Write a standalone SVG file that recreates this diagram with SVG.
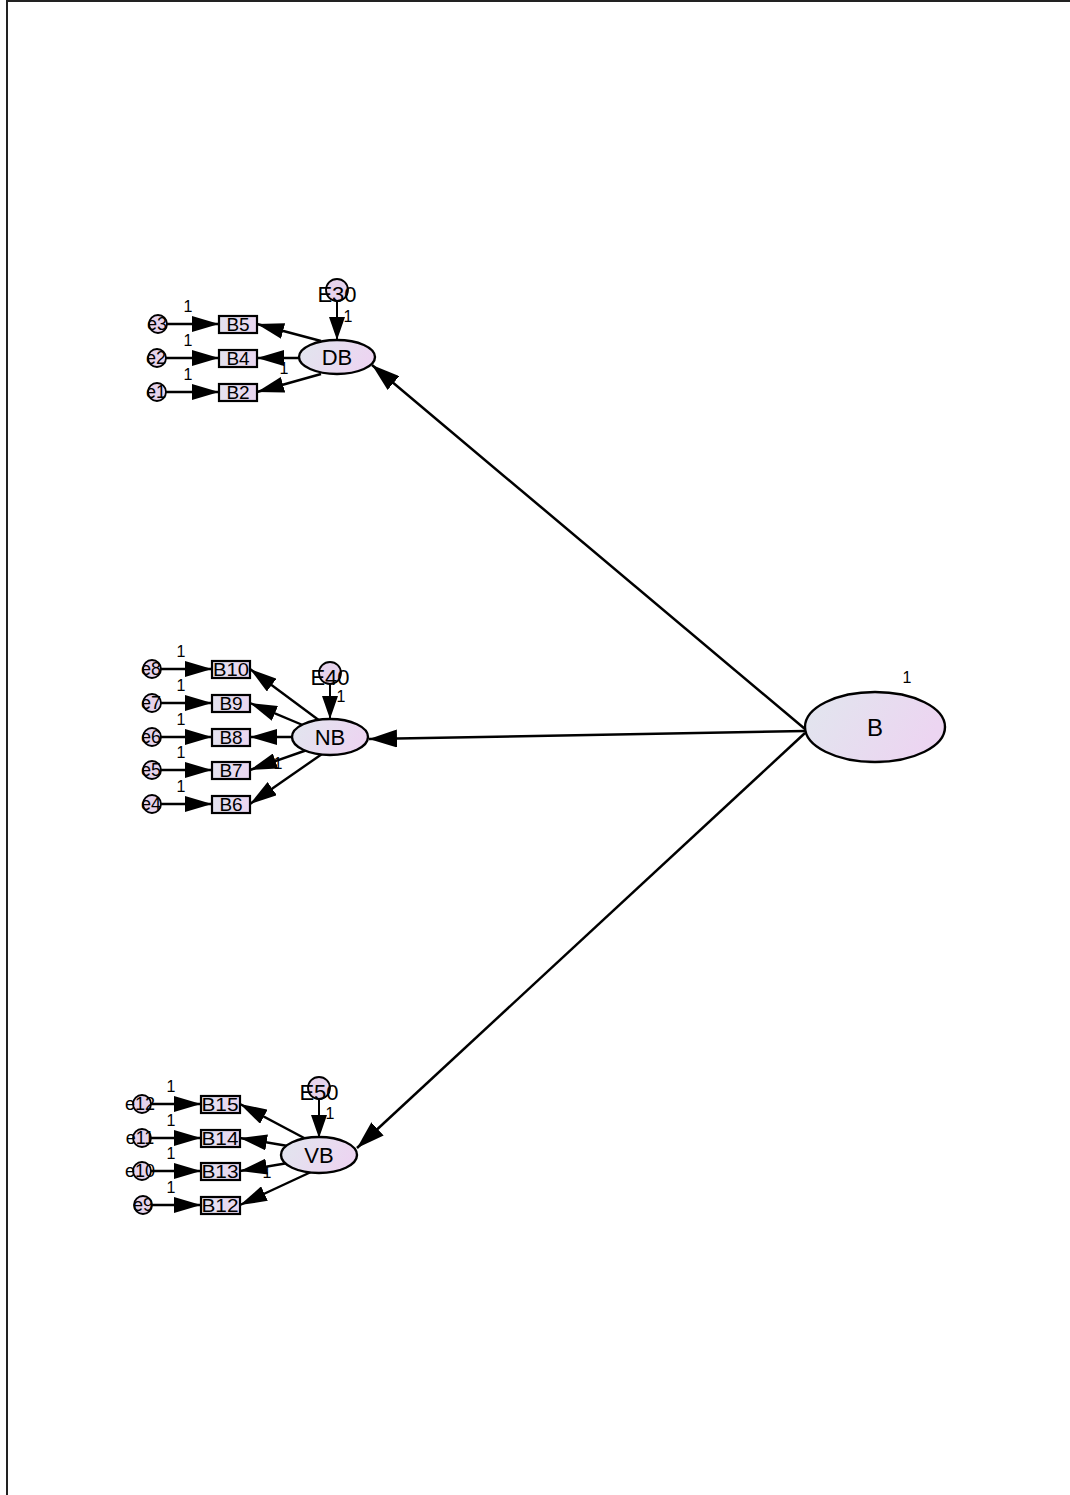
<svg xmlns="http://www.w3.org/2000/svg" width="1070" height="1495" viewBox="0 0 1070 1495">
  <defs>
    <linearGradient id="lat" x1="0" y1="0" x2="1" y2="0.3">
      <stop offset="0" stop-color="#e1e6ee"/>
      <stop offset="1" stop-color="#ecd5f1"/>
    </linearGradient>
    <linearGradient id="obs" x1="0" y1="0" x2="1" y2="0">
      <stop offset="0" stop-color="#e3e2ef"/>
      <stop offset="1" stop-color="#ead6f0"/>
    </linearGradient>
    <marker id="ah" markerUnits="userSpaceOnUse" markerWidth="30" markerHeight="18" refX="28" refY="9" orient="auto">
      <path d="M0,0 L28,9 L0,18 z" fill="#000"/>
    </marker>
    <marker id="ahs" markerUnits="userSpaceOnUse" markerWidth="28" markerHeight="16" refX="27" refY="8" orient="auto">
      <path d="M0,0 L27,8 L0,16 z" fill="#000"/>
    </marker>
    <marker id="ahr" markerUnits="userSpaceOnUse" markerWidth="24" markerHeight="16" refX="23" refY="8" orient="auto">
      <path d="M0,0 L23,8 L0,16 z" fill="#000"/>
    </marker>
  </defs>
  <style>
    text { font-family: "Liberation Sans", Arial, sans-serif; fill: #000; }
    .lat { fill: url(#lat); stroke: #000; stroke-width: 2.4; }
    .obs { fill: url(#obs); stroke: #000; stroke-width: 2.2; }
    .err { fill: #e6d3ec; stroke: #000; stroke-width: 1.8; }
    .lbl { font-size: 22px; text-anchor: middle; }
    .big { font-size: 24px; text-anchor: middle; }
    .ind { font-size: 19px; text-anchor: middle; }
    .en { font-size: 18px; text-anchor: middle; }
    .one { font-size: 16px; text-anchor: middle; }
    .ca { stroke: #000; stroke-width: 2.5; fill: none; marker-end: url(#ah); }
    .cs { stroke: #000; stroke-width: 2.4; fill: none; marker-end: url(#ahs); }
    .cr { stroke: #000; stroke-width: 2; fill: none; marker-end: url(#ahr); }
  </style>

  <rect width="1070" height="1495" fill="#fff"/>
  <!-- page frame -->
  <path d="M7,1495 L7,1 L1070,1" fill="none" stroke="#222" stroke-width="2"/>

  <!-- structural paths and measurement paths -->
  <g id="connectors">
    <!-- B to first-order factors -->
    <line class="ca" x1="805" y1="729" x2="372" y2="365"/>
    <line class="ca" x1="805" y1="731" x2="369" y2="739"/>
    <line class="ca" x1="805" y1="733" x2="357" y2="1148"/>

    <!-- DB block -->
    <line class="cs" x1="166" y1="324" x2="219" y2="324"/>
    <line class="cs" x1="165" y1="358" x2="219" y2="358"/>
    <line class="cs" x1="165" y1="392" x2="219" y2="392"/>
    <line class="cs" x1="321" y1="341" x2="257" y2="324"/>
    <line class="cs" x1="299" y1="358" x2="257" y2="358"/>
    <line class="cs" x1="321" y1="374" x2="257" y2="392"/>
    <line class="cr" x1="337" y1="300" x2="337" y2="340"/>

    <!-- NB block -->
    <line class="cs" x1="160" y1="669" x2="212" y2="669"/>
    <line class="cs" x1="160" y1="703" x2="212" y2="703"/>
    <line class="cs" x1="160" y1="737" x2="212" y2="737"/>
    <line class="cs" x1="160" y1="770" x2="212" y2="770"/>
    <line class="cs" x1="160" y1="804" x2="212" y2="804"/>
    <line class="cs" x1="320" y1="721" x2="250" y2="669"/>
    <line class="cs" x1="305" y1="726" x2="250" y2="703"/>
    <line class="cs" x1="292" y1="737" x2="250" y2="737"/>
    <line class="cs" x1="307" y1="750" x2="250" y2="770"/>
    <line class="cs" x1="322" y1="754" x2="250" y2="804"/>
    <line class="cr" x1="330" y1="683" x2="330" y2="719"/>

    <!-- VB block -->
    <line class="cs" x1="150" y1="1104" x2="201" y2="1104"/>
    <line class="cs" x1="150" y1="1138" x2="201" y2="1138"/>
    <line class="cs" x1="150" y1="1171" x2="201" y2="1171"/>
    <line class="cs" x1="151" y1="1205" x2="201" y2="1205"/>
    <line class="cs" x1="306" y1="1139" x2="240" y2="1104"/>
    <line class="cs" x1="288" y1="1146" x2="240" y2="1138"/>
    <line class="cs" x1="288" y1="1163" x2="240" y2="1171"/>
    <line class="cs" x1="311" y1="1172" x2="240" y2="1205"/>
    <line class="cr" x1="319" y1="1098" x2="319" y2="1138"/>

    <!-- fixed parameter labels -->
    <text class="one" x="188" y="312">1</text>
    <text class="one" x="188" y="346">1</text>
    <text class="one" x="188" y="380">1</text>
    <text class="one" x="284" y="374">1</text>
    <text class="one" x="348" y="322">1</text>

    <text class="one" x="181" y="657">1</text>
    <text class="one" x="181" y="691">1</text>
    <text class="one" x="181" y="725">1</text>
    <text class="one" x="181" y="758">1</text>
    <text class="one" x="181" y="792">1</text>
    <text class="one" x="278" y="769">1</text>
    <text class="one" x="341" y="702">1</text>

    <text class="one" x="171" y="1092">1</text>
    <text class="one" x="171" y="1126">1</text>
    <text class="one" x="171" y="1159">1</text>
    <text class="one" x="171" y="1193">1</text>
    <text class="one" x="267" y="1178">1</text>
    <text class="one" x="330" y="1119">1</text>

    <text class="one" x="907" y="683" font-size="18">1</text>
  </g>

  <!-- second-order factor -->
  <g id="node-B">
    <ellipse class="lat" cx="875" cy="727" rx="70" ry="35"/>
    <text class="big" x="875" y="736">B</text>
  </g>

  <!-- DB factor -->
  <g id="node-DB">
    <ellipse class="lat" cx="337" cy="357" rx="38" ry="17"/>
    <text class="lbl" x="337" y="365">DB</text>
  </g>
  <g id="node-E30">
    <circle class="err" cx="337" cy="290" r="11"/>
    <text class="lbl" x="337" y="302">E30</text>
  </g>
  <g id="node-B5"><rect class="obs" x="219" y="316" width="38" height="17"/><text class="ind" x="238" y="331">B5</text></g>
  <g id="node-B4"><rect class="obs" x="219" y="350" width="38" height="17"/><text class="ind" x="238" y="365">B4</text></g>
  <g id="node-B2"><rect class="obs" x="219" y="384" width="38" height="17"/><text class="ind" x="238" y="399">B2</text></g>
  <g id="node-e3"><circle class="err" cx="158" cy="324" r="9"/><text class="en" x="157" y="330">e3</text></g>
  <g id="node-e2"><circle class="err" cx="157" cy="358" r="9"/><text class="en" x="156" y="364">e2</text></g>
  <g id="node-e1"><circle class="err" cx="157" cy="392" r="9"/><text class="en" x="156" y="398">e1</text></g>

  <!-- NB factor -->
  <g id="node-NB">
    <ellipse class="lat" cx="330" cy="737" rx="38" ry="18"/>
    <text class="lbl" x="330" y="745">NB</text>
  </g>
  <g id="node-E40">
    <circle class="err" cx="330" cy="673" r="11"/>
    <text class="lbl" x="330" y="685">E40</text>
  </g>
  <g id="node-B10"><rect class="obs" x="212" y="661" width="38" height="17"/><text class="ind" x="231" y="676" textLength="36" lengthAdjust="spacingAndGlyphs">B10</text></g>
  <g id="node-B9"><rect class="obs" x="212" y="695" width="38" height="17"/><text class="ind" x="231" y="710">B9</text></g>
  <g id="node-B8"><rect class="obs" x="212" y="729" width="38" height="17"/><text class="ind" x="231" y="744">B8</text></g>
  <g id="node-B7"><rect class="obs" x="212" y="762" width="38" height="17"/><text class="ind" x="231" y="777">B7</text></g>
  <g id="node-B6"><rect class="obs" x="212" y="796" width="38" height="17"/><text class="ind" x="231" y="811">B6</text></g>
  <g id="node-e8"><circle class="err" cx="152" cy="669" r="9"/><text class="en" x="151" y="675">e8</text></g>
  <g id="node-e7"><circle class="err" cx="152" cy="703" r="9"/><text class="en" x="151" y="709">e7</text></g>
  <g id="node-e6"><circle class="err" cx="152" cy="737" r="9"/><text class="en" x="151" y="743">e6</text></g>
  <g id="node-e5"><circle class="err" cx="152" cy="770" r="9"/><text class="en" x="151" y="776">e5</text></g>
  <g id="node-e4"><circle class="err" cx="152" cy="804" r="9"/><text class="en" x="151" y="810">e4</text></g>

  <!-- VB factor -->
  <g id="node-VB">
    <ellipse class="lat" cx="319" cy="1155" rx="38" ry="18"/>
    <text class="lbl" x="319" y="1163">VB</text>
  </g>
  <g id="node-E50">
    <circle class="err" cx="319" cy="1088" r="11"/>
    <text class="lbl" x="319" y="1100">E50</text>
  </g>
  <g id="node-B15"><rect class="obs" x="201" y="1096" width="39" height="17"/><text class="ind" x="220" y="1111" textLength="37" lengthAdjust="spacingAndGlyphs">B15</text></g>
  <g id="node-B14"><rect class="obs" x="201" y="1130" width="39" height="17"/><text class="ind" x="220" y="1145" textLength="37" lengthAdjust="spacingAndGlyphs">B14</text></g>
  <g id="node-B13"><rect class="obs" x="201" y="1163" width="39" height="17"/><text class="ind" x="220" y="1178" textLength="37" lengthAdjust="spacingAndGlyphs">B13</text></g>
  <g id="node-B12"><rect class="obs" x="201" y="1197" width="39" height="17"/><text class="ind" x="220" y="1212" textLength="37" lengthAdjust="spacingAndGlyphs">B12</text></g>
  <g id="node-e12"><circle class="err" cx="142" cy="1104" r="9"/><text class="en" x="140" y="1110">e12</text></g>
  <g id="node-e11"><circle class="err" cx="142" cy="1138" r="9"/><text class="en" x="140" y="1144">e11</text></g>
  <g id="node-e10"><circle class="err" cx="142" cy="1171" r="9"/><text class="en" x="140" y="1177">e10</text></g>
  <g id="node-e9"><circle class="err" cx="143" cy="1205" r="9"/><text class="en" x="143" y="1211">e9</text></g>
</svg>
